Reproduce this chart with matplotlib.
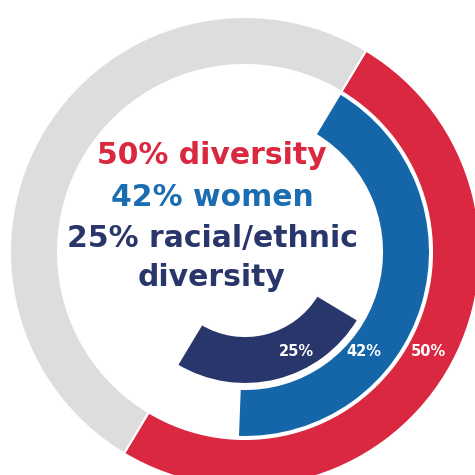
import matplotlib
matplotlib.use("Agg")
import matplotlib.pyplot as plt

# Daten
labels = ["diversity", "women", "racial/ethnic\ndiversity"]
shares = [50, 42, 25]
colors = ["#D9283F", "#1566A8", "#29366B"]
text_colors = ["#D9283F", "#1B6DB2", "#29366B"]

fig = plt.figure(figsize=(4.75, 4.75), dpi=100)
ax = fig.add_axes([0, 0, 1, 1])

# Geometrie in Pixeln (y nach oben)
cx, cy = 245, 223
rings = [
    # radius, breite, startwinkel (von oben im Uhrzeigersinn)
    (235, 48, 31),
    (185, 48, 31),
    (132, 48, 121),
]

for i, (share, col) in enumerate(zip(shares, colors)):
    radius, width, start = rings[i]
    rest_col = "#DDDDDD" if i == 0 else "white"
    wedges, _ = ax.pie([share, 100 - share], colors=[col, rest_col],
                       startangle=90 - start, counterclock=False,
                       radius=radius, center=(cx, cy),
                       wedgeprops=dict(width=width, edgecolor="white", linewidth=1.5))
    if i > 0:
        wedges[1].set_visible(False)

# Prozentlabels auf den Ringen
label_x = [428, 364, 296]
for x, s in zip(label_x, shares):
    ax.text(x, 123, f"{s}%", color="white", fontsize=10.5, fontweight="bold",
            ha="center", va="center")

# Mitteltext
lines = [("50% diversity", text_colors[0], 320),
         ("42% women", text_colors[1], 278),
         ("25% racial/ethnic", text_colors[2], 236),
         ("diversity", text_colors[2], 197)]
for txt, col, y in lines:
    ax.text(212, y, txt, color=col, fontsize=21.5, fontweight="bold",
            ha="center", va="center")

ax.set_xlim(0, 475)
ax.set_ylim(0, 475)
ax.set_aspect("equal")
ax.axis("off")

fig.savefig("out.png", dpi=100)
